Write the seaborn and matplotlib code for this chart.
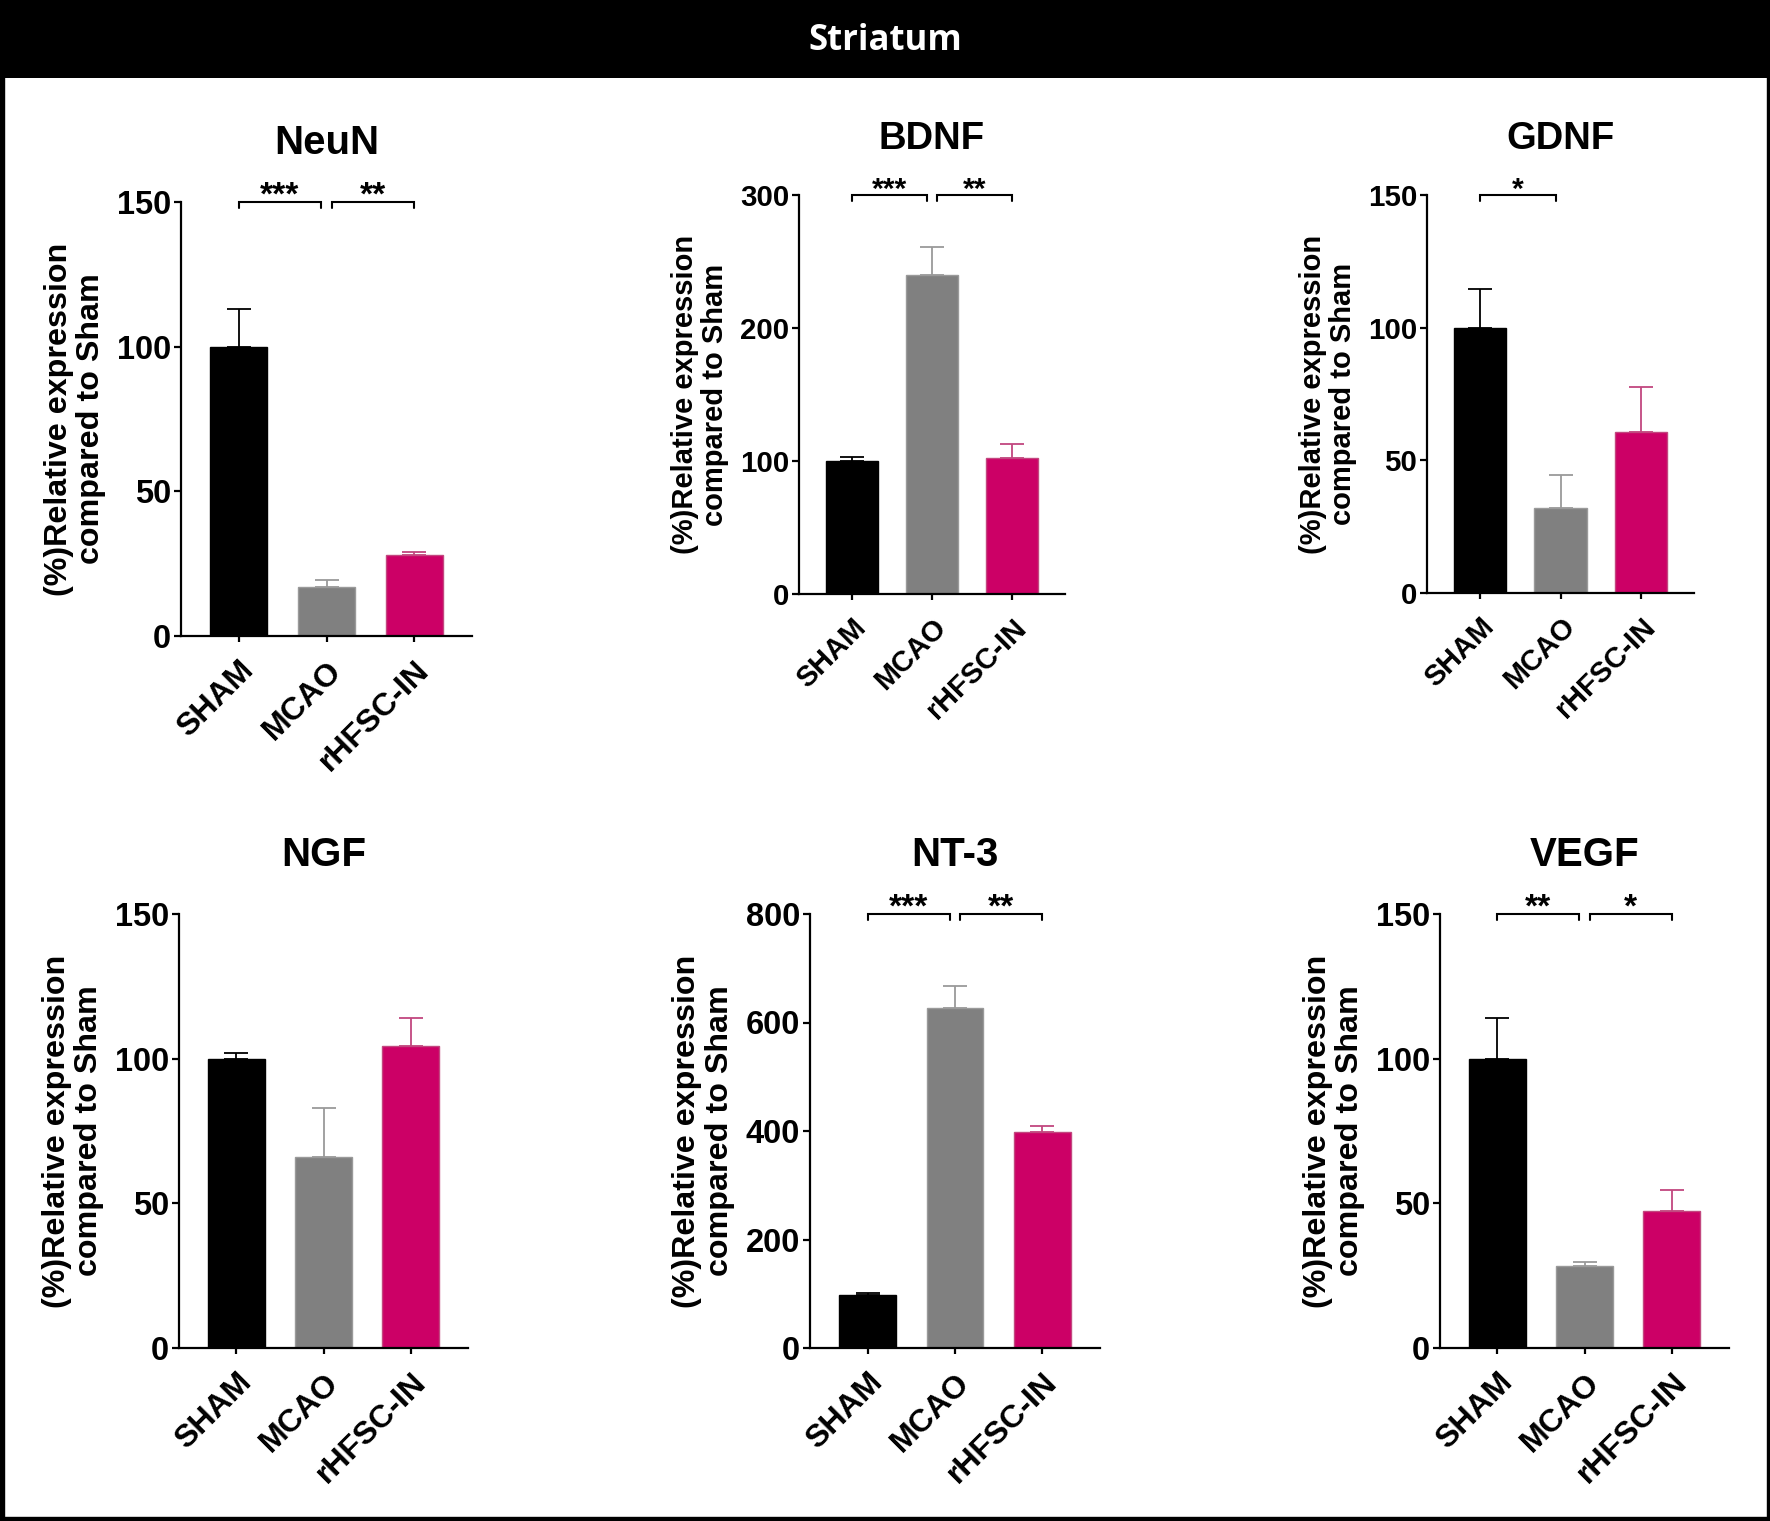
import matplotlib
matplotlib.use("Agg")
import matplotlib.pyplot as plt
import matplotlib.transforms as mtransforms
from matplotlib.patches import Rectangle
import seaborn as sns
import pandas as pd

# ---------------- data ----------------
groups = ["SHAM", "MCAO", "rHFSC-IN"]
markers = ["NeuN", "BDNF", "GDNF", "NGF", "NT-3", "VEGF"]

neun_mean = [100, 17, 28]
neun_sem = [13, 2.3, 1.2]
bdnf_mean = [100, 240, 102]
bdnf_sem = [3, 21, 11]
gdnf_mean = [100, 32, 60.5]
gdnf_sem = [14.5, 12.5, 17]
ngf_mean = [100, 66, 104.5]
ngf_sem = [2, 17, 9.5]
nt3_mean = [97, 626, 398]
nt3_sem = [4, 41, 12]
vegf_mean = [100, 28.2, 47.5]
vegf_sem = [14, 1.5, 7]

y_max = [150, 300, 150, 150, 800, 150]
y_step = [50, 100, 50, 50, 200, 50]

sig_neun = [(0, 1, "***"), (1, 2, "**")]
sig_bdnf = [(0, 1, "***"), (1, 2, "**")]
sig_gdnf = [(0, 1, "*")]
sig_ngf = []
sig_nt3 = [(0, 1, "***"), (1, 2, "**")]
sig_vegf = [(0, 1, "**"), (1, 2, "*")]

means = [neun_mean, bdnf_mean, gdnf_mean, ngf_mean, nt3_mean, vegf_mean]
sems = [neun_sem, bdnf_sem, gdnf_sem, ngf_sem, nt3_sem, vegf_sem]
sigs = [sig_neun, sig_bdnf, sig_gdnf, sig_ngf, sig_nt3, sig_vegf]

bar_colors = ["#000000", "#808080", "#CC0066"]
err_colors = ["#000000", "#9a9a9a", "#c2477f"]

# ---------------- style ----------------
sns.set_theme(style="white")
plt.rcParams["font.family"] = ["Liberation Sans", "DejaVu Sans"]
plt.rcParams["font.weight"] = "bold"
plt.rcParams["text.color"] = "black"
plt.rcParams["axes.labelcolor"] = "black"
plt.rcParams["xtick.color"] = "black"
plt.rcParams["ytick.color"] = "black"

W, H = 1770, 1521
fig = plt.figure(figsize=(W / 100, H / 100), dpi=100)
fig.patch.set_facecolor("white")

# panel boxes in pixels: left, right, top, bottom
boxes = [
    (181, 472, 202, 636),
    (799, 1065, 195, 594),
    (1427, 1694, 195, 593),
    (179, 468, 914, 1348),
    (810, 1100, 914, 1348),
    (1440, 1729, 914, 1348),
]
scales = [1.0, 0.905, 0.905, 1.0, 1.0, 1.0]
title_sizes = [29, 27.5, 27.5, 29, 29, 29]
title_offsets = [34.8, 33.0, 33.0, 34.8, 34.8, 34.8]

for i in range(6):
    l, r, t, b = boxes[i]
    s = scales[i]
    ax = fig.add_axes([l / W, 1 - b / H, (r - l) / W, (b - t) / H])
    df = pd.DataFrame({"group": groups, "value": means[i]})
    sns.barplot(data=df, x="group", y="value", hue="group", palette=bar_colors,
                order=groups, hue_order=groups, width=0.65, legend=False,
                errorbar=None, ax=ax, saturation=1)
    for j, p in enumerate(ax.patches):
        p.set_edgecolor(err_colors[j])
        p.set_linewidth(1.0)
    for j in range(3):
        ax.errorbar(j, means[i][j], yerr=[[0], [sems[i][j]]], fmt="none",
                    ecolor=err_colors[j], elinewidth=1.3, capsize=8.5,
                    capthick=1.3, zorder=1)
    ax.set_xlim(-0.66, 2.66)
    ax.set_ylim(0, y_max[i])
    ticks = list(range(0, y_max[i] + 1, y_step[i]))
    ax.set_yticks(ticks)
    ax.set_yticklabels([str(v) for v in ticks], fontsize=23.5 * s,
                       fontweight="bold", color="black")
    ax.set_xticks([0, 1, 2])
    ax.set_xticklabels(groups, fontsize=23 * s, fontweight="bold",
                       rotation=45, ha="right", va="top",
                       rotation_mode="anchor", color="black")
    ax.set_xlabel("")
    ax.set_ylabel("(%)Relative expression\ncompared to Sham",
                  fontsize=23.2 * s, fontweight="bold", labelpad=8,
                  linespacing=1.1, color="black")
    ax.annotate(markers[i], xy=(0.5, 1.0), xycoords="axes fraction",
                xytext=(0, title_offsets[i]), textcoords="offset points",
                ha="center", va="baseline", fontsize=title_sizes[i],
                fontweight="bold", color="black", annotation_clip=False)
    for sp in ["top", "right"]:
        ax.spines[sp].set_visible(False)
    for sp in ["left", "bottom"]:
        ax.spines[sp].set_linewidth(1.6)
        ax.spines[sp].set_color("black")
    ax.tick_params(axis="y", which="major", left=True, length=5, width=1.6,
                   pad=2, colors="black")
    ax.tick_params(axis="x", which="major", bottom=True, length=4, width=1.6,
                   pad=10, colors="black")
    ax.set_facecolor("white")

    # significance brackets
    trans = mtransforms.blended_transform_factory(ax.transData, ax.transAxes)
    leg = 6 / (b - t)
    yb = 1.0
    for (a, c, txt) in sigs[i]:
        x0 = a + (0.06 if a == 1 else 0.0)
        x1 = c - (0.06 if c == 1 else 0.0)
        ax.plot([x0, x0, x1, x1], [yb - leg, yb, yb, yb - leg], color="black",
                lw=1.5, transform=trans, clip_on=False, solid_joinstyle="miter")
        ax.annotate(txt, xy=((x0 + x1) / 2, yb), xycoords=trans,
                    xytext=(0, -2), textcoords="offset points",
                    ha="center", va="baseline", fontsize=24 * s,
                    fontweight="bold", color="black", annotation_clip=False)

# title bar
bar_ax = fig.add_axes([0, 1 - 78 / H, 1, 78 / H])
bar_ax.set_facecolor("black")
bar_ax.set_xticks([])
bar_ax.set_yticks([])
for sp in bar_ax.spines.values():
    sp.set_visible(False)
bar_ax.text(0.5, 0.48, "Striatum", color="white", fontsize=25, fontweight="bold",
            ha="center", va="center", family=["Open Sans", "DejaVu Sans"],
            transform=bar_ax.transAxes)

# outer frame
fig.patches.append(Rectangle((0, 0), 4 / W, 1, transform=fig.transFigure,
                             color="black", zorder=10))
fig.patches.append(Rectangle((1 - 3 / W, 0), 3 / W, 1, transform=fig.transFigure,
                             color="black", zorder=10))
fig.patches.append(Rectangle((0, 0), 1, 4 / H, transform=fig.transFigure,
                             color="black", zorder=10))

fig.savefig("out.png", dpi=100, facecolor="white")
